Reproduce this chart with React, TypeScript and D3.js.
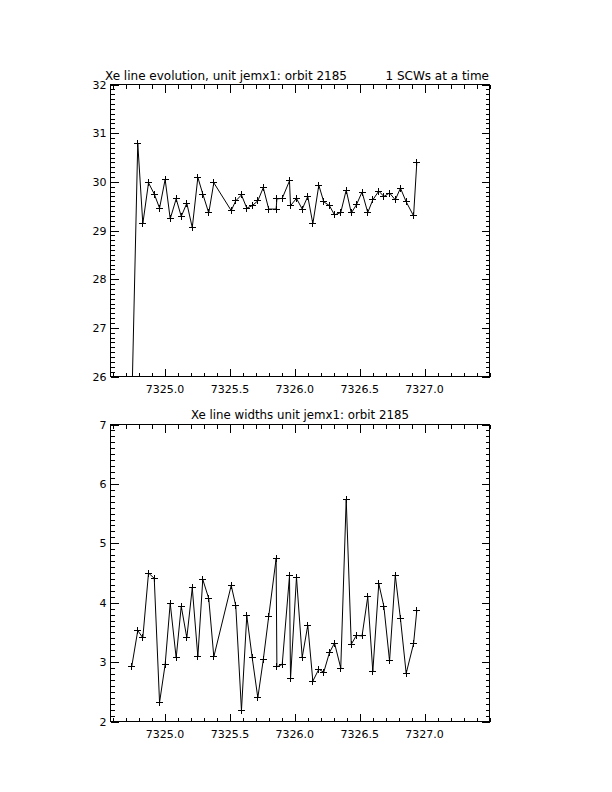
import React from 'react';
import * as d3 from 'd3';

// Observation times (IJD) shared by both panels
const times = [
  7324.744, 7324.790, 7324.829, 7324.873, 7324.917, 7324.958, 7325.001, 7325.040,
  7325.086, 7325.125, 7325.168, 7325.210, 7325.253, 7325.291, 7325.337, 7325.376,
  7325.510, 7325.545, 7325.589, 7325.630, 7325.672, 7325.715, 7325.757, 7325.799,
  7325.856, 7325.862, 7325.903, 7325.959, 7325.967, 7326.013, 7326.057, 7326.100,
  7326.139, 7326.185, 7326.223, 7326.267, 7326.306, 7326.354, 7326.396, 7326.435,
  7326.475, 7326.518, 7326.562, 7326.601, 7326.647, 7326.686, 7326.730, 7326.774,
  7326.814, 7326.858, 7326.915, 7326.940,
];

// Xe line energy (top panel)
const lineEnergy = [
  25.4, 30.79, 29.14, 29.98, 29.75, 29.46, 30.05, 29.24,
  29.65, 29.29, 29.56, 29.06, 30.09, 29.75, 29.36, 29.98,
  29.41, 29.61, 29.73, 29.46, 29.51, 29.61, 29.88, 29.44,
  29.44, 29.65, 29.66, 30.02, 29.51, 29.66, 29.44, 29.70,
  29.14, 29.93, 29.59, 29.51, 29.32, 29.37, 29.83, 29.36,
  29.53, 29.79, 29.37, 29.63, 29.81, 29.70, 29.77, 29.63,
  29.87, 29.59, 29.30, 30.40,
];

// Xe line width (bottom panel)
const lineWidth = [
  2.93, 3.53, 3.41, 4.50, 4.41, 2.32, 2.96, 3.99,
  3.07, 3.94, 3.41, 4.25, 3.09, 4.39, 4.07, 3.09,
  4.29, 3.95, 2.19, 3.78, 3.07, 2.40, 3.04, 3.77,
  4.74, 2.92, 2.96, 4.45, 2.72, 4.43, 3.08, 3.62,
  2.68, 2.88, 2.83, 3.16, 3.32, 2.90, 5.74, 3.30,
  3.45, 3.44, 4.10, 2.84, 4.32, 3.94, 3.02, 4.46,
  3.73, 2.81, 3.31, 3.87,
];

const xDomain: [number, number] = [7324.58, 7327.5];
const xMajorTicks = [7325.0, 7325.5, 7326.0, 7326.5, 7327.0];
const topYTicks = [26, 27, 28, 29, 30, 31, 32];
const bottomYTicks = [2, 3, 4, 5, 6, 7];

const FONT = "'DejaVu Sans', sans-serif";
const LEFT = 110.5;
const RIGHT = 489.5;

type PanelProps = {
  id: string;
  top: number;
  bottom: number;
  yTicks: number[];
  values: number[];
};

function Panel({ id, top, bottom, yTicks, values }: PanelProps) {
  const x = d3.scaleLinear().domain(xDomain).range([LEFT, RIGHT]);
  const yDom: [number, number] = [yTicks[0], yTicks[yTicks.length - 1]];
  const y = d3.scaleLinear().domain(yDom).range([bottom, top]);

  const xMinor = d3.range(7324.6, 7327.5001, 0.1).filter(
    (v) => !xMajorTicks.some((m) => Math.abs(m - v) < 1e-6)
  );
  const yMinor = d3.range(yDom[0], yDom[1] + 1e-6, 0.1).filter(
    (v) => !yTicks.some((m) => Math.abs(m - v) < 1e-6)
  );

  const pts = times.map((t, i) => [x(t), y(values[i])] as [number, number]);
  const line = d3.line<[number, number]>()(pts) || '';

  const MAJ = 8;
  const MIN = 4;
  const tickPath: string[] = [];
  xMajorTicks.forEach((v) => {
    const px = Math.round(x(v)) + 0.5;
    tickPath.push(`M${px},${bottom}V${bottom - MAJ}M${px},${top}V${top + MAJ}`);
  });
  xMinor.forEach((v) => {
    const px = Math.round(x(v)) + 0.5;
    tickPath.push(`M${px},${bottom}V${bottom - MIN}M${px},${top}V${top + MIN}`);
  });
  yTicks.forEach((v) => {
    const py = Math.round(y(v)) + 0.5;
    tickPath.push(`M${LEFT},${py}H${LEFT + MAJ}M${RIGHT},${py}H${RIGHT - MAJ}`);
  });
  yMinor.forEach((v) => {
    const py = Math.round(y(v)) + 0.5;
    tickPath.push(`M${LEFT},${py}H${LEFT + MIN}M${RIGHT},${py}H${RIGHT - MIN}`);
  });

  const S = 3.5;
  return (
    <g>
      <defs>
        <clipPath id={`clip-${id}`}>
          <rect x={LEFT} y={top} width={RIGHT - LEFT} height={bottom - top} />
        </clipPath>
      </defs>
      <rect
        x={LEFT}
        y={top}
        width={RIGHT - LEFT}
        height={bottom - top}
        fill="none"
        stroke="#000"
        strokeWidth={1}
        shapeRendering="crispEdges"
      />
      <path d={tickPath.join('')} stroke="#000" strokeWidth={1} fill="none" shapeRendering="crispEdges" />
      <g clipPath={`url(#clip-${id})`}>
        <path d={line} fill="none" stroke="#000" strokeWidth={1} />
        {pts.map(([px, py], i) => (
          <path
            key={i}
            d={`M${px - S},${py}H${px + S}M${px},${py - S}V${py + S}`}
            stroke="#000"
            strokeWidth={1}
            fill="none"
            shapeRendering="crispEdges"
          />
        ))}
      </g>
      {xMajorTicks.map((v) => (
        <text
          key={v}
          x={x(v)}
          y={bottom + 16}
          textAnchor="middle"
          fontFamily={FONT}
          fontSize={11}
          fill="#000"
        >
          {v.toFixed(1)}
        </text>
      ))}
      {yTicks.map((v) => (
        <text
          key={v}
          x={LEFT - 4}
          y={y(v) + 4}
          textAnchor="end"
          fontFamily={FONT}
          fontSize={11}
          fill="#000"
        >
          {String(v)}
        </text>
      ))}
    </g>
  );
}

export default function App() {
  return (
    <svg
      width={612}
      height={792}
      viewBox="0 0 612 792"
      style={{ position: 'absolute', left: 0, top: 0, background: '#fff' }}
    >
      <rect x={0} y={0} width={612} height={792} fill="#fff" />
      <text x={105} y={80} fontFamily={FONT} fontSize={12} fill="#000" textLength={242} lengthAdjust="spacingAndGlyphs">
        Xe line evolution, unit jemx1: orbit 2185
      </text>
      <text x={489} y={80} fontFamily={FONT} fontSize={12} fill="#000" textAnchor="end">
        1 SCWs at a time
      </text>
      <Panel id="top" top={84.5} bottom={376.5} yTicks={topYTicks} values={lineEnergy} />
      <text x={300} y={419} fontFamily={FONT} fontSize={12} fill="#000" textAnchor="middle" textLength={218} lengthAdjust="spacingAndGlyphs">
        Xe line widths unit jemx1: orbit 2185
      </text>
      <Panel id="bot" top={424.5} bottom={721.5} yTicks={bottomYTicks} values={lineWidth} />
    </svg>
  );
}
